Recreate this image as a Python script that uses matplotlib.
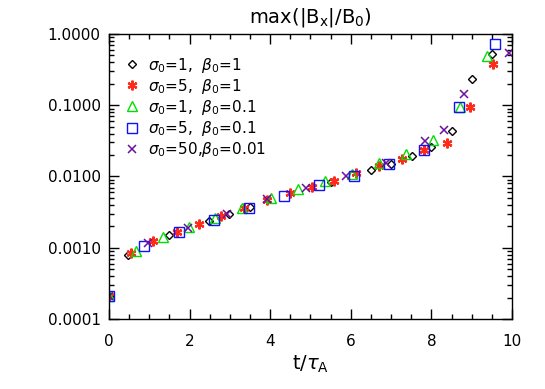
import numpy as np
import matplotlib
matplotlib.use('Agg')
import matplotlib.pyplot as plt
from matplotlib.ticker import AutoMinorLocator, LogLocator, FixedLocator, FormatStrFormatter, NullFormatter

plt.rcParams['font.family'] = ['DejaVu Sans']
plt.rcParams['mathtext.fontset'] = 'dejavusans'

# data: t/tau_A and max(|Bx|/B0)
t_diamond = [0.0, 0.47, 1.49, 2.47, 2.98, 3.5, 5.5, 6.49, 7.01, 7.51, 8.0, 8.5, 9.0, 9.5]
v_diamond = [2.07e-4, 7.8e-4, 1.52e-3, 2.37e-3, 3.0e-3, 3.77e-3, 8.5e-3, 0.0123, 0.0150,
             0.0194, 0.0262, 0.0431, 0.231, 0.524]

t_star = [0.0, 0.54, 1.1, 1.69, 2.23, 2.79, 3.35, 3.93, 4.49, 5.03, 5.59, 6.14, 6.7, 7.28,
          7.82, 8.38, 8.96, 9.52]
v_star = [2.07e-4, 8.3e-4, 1.26e-3, 1.65e-3, 2.16e-3, 2.79e-3, 3.65e-3, 4.75e-3, 5.81e-3,
          7.12e-3, 8.73e-3, 0.0111, 0.0140, 0.0174, 0.0235, 0.0292, 0.0936, 0.379]

t_tri = [0.0, 0.66, 1.33, 1.98, 2.64, 3.3, 4.02, 4.68, 5.36, 6.04, 6.7, 7.37, 8.05, 8.7, 9.37]
v_tri = [2.07e-4, 9.1e-4, 1.40e-3, 1.94e-3, 2.59e-3, 3.65e-3, 5.04e-3, 6.68e-3, 8.65e-3,
         0.0108, 0.0153, 0.0207, 0.0325, 0.093, 0.491]

t_sq = [0.0, 0.86, 1.74, 2.6, 3.47, 4.34, 5.22, 6.09, 6.96, 7.82, 8.69, 9.58]
v_sq = [2.07e-4, 1.05e-3, 1.65e-3, 2.45e-3, 3.58e-3, 5.32e-3, 7.6e-3, 0.0103, 0.0148,
        0.0235, 0.0936, 0.724]

t_x = [0.0, 0.98, 1.96, 2.92, 3.91, 4.88, 5.88, 6.87, 7.83, 8.32, 8.82, 9.93]
v_x = [2.07e-4, 1.15e-3, 1.89e-3, 2.98e-3, 4.79e-3, 6.9e-3, 0.0103, 0.0156, 0.0318,
       0.045, 0.1425, 0.547]

labels = [r'$\sigma_0$=1,  $\beta_0$=1',
          r'$\sigma_0$=5,  $\beta_0$=1',
          r'$\sigma_0$=1,  $\beta_0$=0.1',
          r'$\sigma_0$=5,  $\beta_0$=0.1',
          r'$\sigma_0$=50,$\beta_0$=0.01']
yticks = [1e-4, 1e-3, 1e-2, 1e-1, 1.0]

fig = plt.figure(figsize=(5.45, 3.89), dpi=100)
ax = fig.add_axes([0.2, 0.18, 0.7394, 0.7326])

ax.plot(t_diamond, v_diamond, ls='none', marker='D', ms=4.5, mfc='none', mec='black',
        mew=1.0, label=labels[0])
ax.plot(t_star, v_star, ls='none', marker=(6, 2, 0), ms=7, mec='#ff2a1a', mew=1.6,
        label=labels[1])
ax.plot(t_tri, v_tri, ls='none', marker='^', ms=6.5, mfc='none', mec='#00e000', mew=1.0,
        label=labels[2])
ax.plot(t_sq, v_sq, ls='none', marker='s', ms=6.5, mfc='none', mec='#1010ff', mew=1.0,
        label=labels[3])
ax.plot(t_x, v_x, ls='none', marker='x', ms=6, mec='#6a0fa0', mew=1.1, label=labels[4])

ax.set_yscale('log')
ax.set_xlim(0, 10)
ax.set_ylim(1e-4, 1.0)
ax.yaxis.set_major_locator(FixedLocator(yticks))
ax.yaxis.set_major_formatter(FormatStrFormatter('%.4f'))
ax.yaxis.set_minor_locator(LogLocator(base=10, subs=np.arange(2, 10)))
ax.yaxis.set_minor_formatter(NullFormatter())
ax.xaxis.set_minor_locator(AutoMinorLocator(4))

ax.tick_params(which='both', direction='in', top=True, right=True, labelsize=11,
               width=1.0)
ax.tick_params(which='major', length=7)
ax.tick_params(which='minor', length=3.5)
ax.tick_params(axis='y', which='major', pad=6)
ax.tick_params(axis='x', which='major', pad=11)
for s in ax.spines.values():
    s.set_linewidth(1.0)

ax.set_title(r'max(|B$_\mathrm{x}$|/B$_0$)', fontsize=14, pad=8)
ax.set_xlabel(r't/$\tau_\mathrm{A}$', fontsize=14, labelpad=3)

ax.legend(loc='upper left', frameon=False, fontsize=11, handlelength=0.6,
          handletextpad=0.7, labelspacing=0.14, borderaxespad=0.3,
          bbox_to_anchor=(0.02, 0.962), numpoints=1)

fig.savefig('out.png', dpi=100)
